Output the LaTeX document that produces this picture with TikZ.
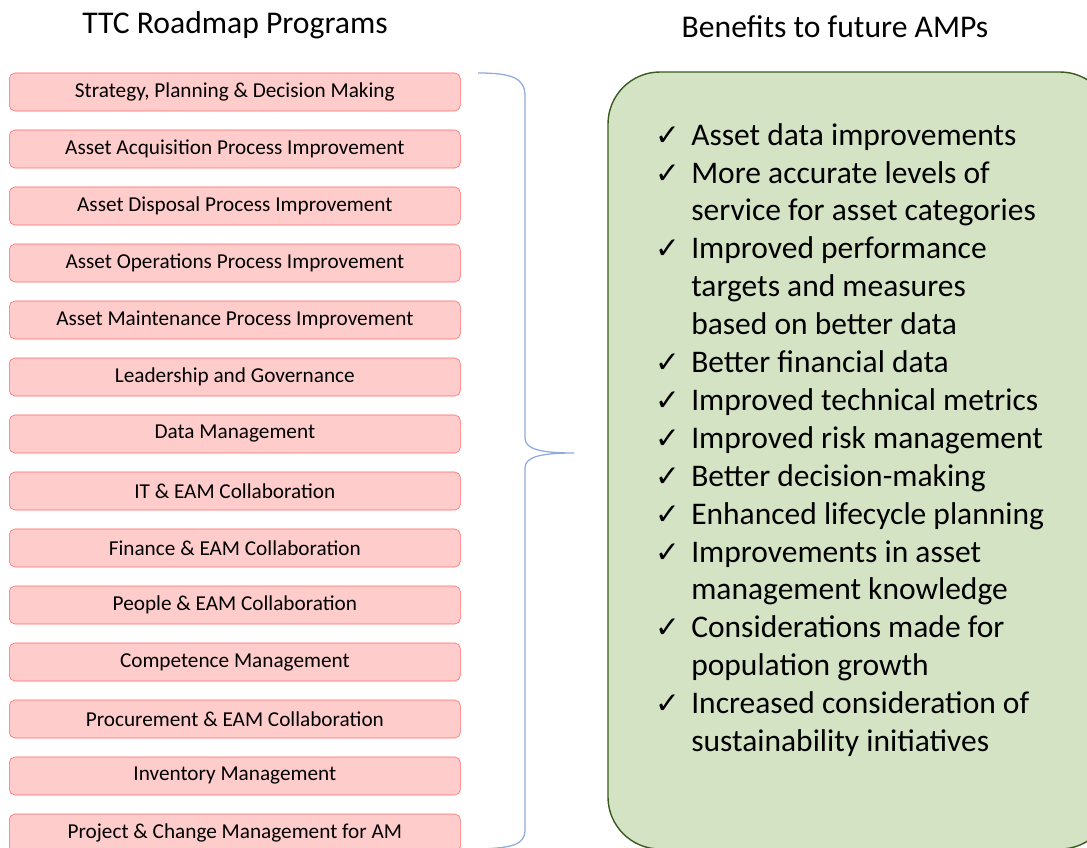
\documentclass[tikz,border=0pt]{standalone}
\usepackage{fontspec}
\setmainfont{Carlito}
\newfontfamily\symfont{DejaVu Sans}
\usepackage{xcolor}
\usetikzlibrary{positioning}

\definecolor{progfill}{HTML}{FFCCCC}
\definecolor{progline}{HTML}{FF6666}
\definecolor{benefill}{HTML}{D5E3C5}
\definecolor{beneline}{HTML}{3B5A20}
\definecolor{braceblue}{HTML}{8FAADC}

% check mark with hanging indent for the benefit list
\newcommand{\cek}{\makebox[0.9cm][l]{\symfont\fontsize{21}{21}\selectfont ✓}}
\newcommand{\lanjut}{\hspace*{0.9cm}}

\begin{document}
\begin{tikzpicture}[
    x=0.025cm, y=-0.025cm,
    judul/.style={font=\fontsize{22.5}{26}\selectfont},
    program/.style={draw=progline, fill=progfill, rounded corners=4pt,
                    minimum width=11.275cm, minimum height=0.95cm,
                    anchor=west, font=\fontsize{15.1}{18}\selectfont,
                    inner sep=0pt},
    manfaat/.style={draw=beneline, fill=benefill, line width=1pt,
                    rounded corners=1.3cm}
  ]
    \useasboundingbox (0,0) rectangle (1087,848);
    \node[judul] (kiri) at (235,25) {TTC Roadmap Programs};
    \node[judul] (kanan) at (835,27) {Benefits to future AMPs};
    \node[program] (strategy) at (9,92) {Strategy, Planning \& Decision Making};
    \node[program] (acquisition) at (9,149) {Asset Acquisition Process Improvement};
    \node[program] (disposal) at (9,206) {Asset Disposal Process Improvement};
    \node[program] (operations) at (9,263) {Asset Operations Process Improvement};
    \node[program] (maintenance) at (9,320) {Asset Maintenance Process Improvement};
    \node[program] (leadership) at (9,377) {Leadership and Governance};
    \node[program] (data) at (9,434) {Data Management};
    \node[program] (itcollab) at (9,491) {IT \& EAM Collaboration};
    \node[program] (finance) at (9,548) {Finance \& EAM Collaboration};
    \node[program] (people) at (9,605) {People \& EAM Collaboration};
    \node[program] (competence) at (9,662) {Competence Management};
    \node[program] (procurement) at (9,719) {Procurement \& EAM Collaboration};
    \node[program] (inventory) at (9,776) {Inventory Management};
    \node[program] (project) at (9,833) {Project \& Change Management for AM};
    % brace gathering all programs
    \coordinate (ujung) at (574,453);
    \draw[braceblue, line width=0.9pt] (478,73)
      .. controls (512,73) and (525,78) .. (525,96) -- (525,438)
      .. controls (525,449) and (540,453) .. (ujung)
      .. controls (540,453) and (525,457) .. (525,468) -- (525,830)
      .. controls (525,845) and (512,848) .. (478,849);
    % benefit panel, running past the page edge
    \draw[manfaat] (608,72) rectangle (1112,849);
    \node[anchor=north west, align=left, inner sep=0pt,
          font=\fontsize{22.4}{26.95}\selectfont] (daftar) at (655,123)
      {\cek Asset data improvements\\
       \cek More accurate levels of\\
       \lanjut service for asset categories\\
       \cek Improved performance\\
       \lanjut targets and measures\\
       \lanjut based on better data\\
       \cek Better financial data\\
       \cek Improved technical metrics\\
       \cek Improved risk management\\
       \cek Better decision-making\\
       \cek Enhanced lifecycle planning\\
       \cek Improvements in asset\\
       \lanjut management knowledge\\
       \cek Considerations made for\\
       \lanjut population growth\\
       \cek Increased consideration of\\
       \lanjut sustainability initiatives};
\end{tikzpicture}
\end{document}
